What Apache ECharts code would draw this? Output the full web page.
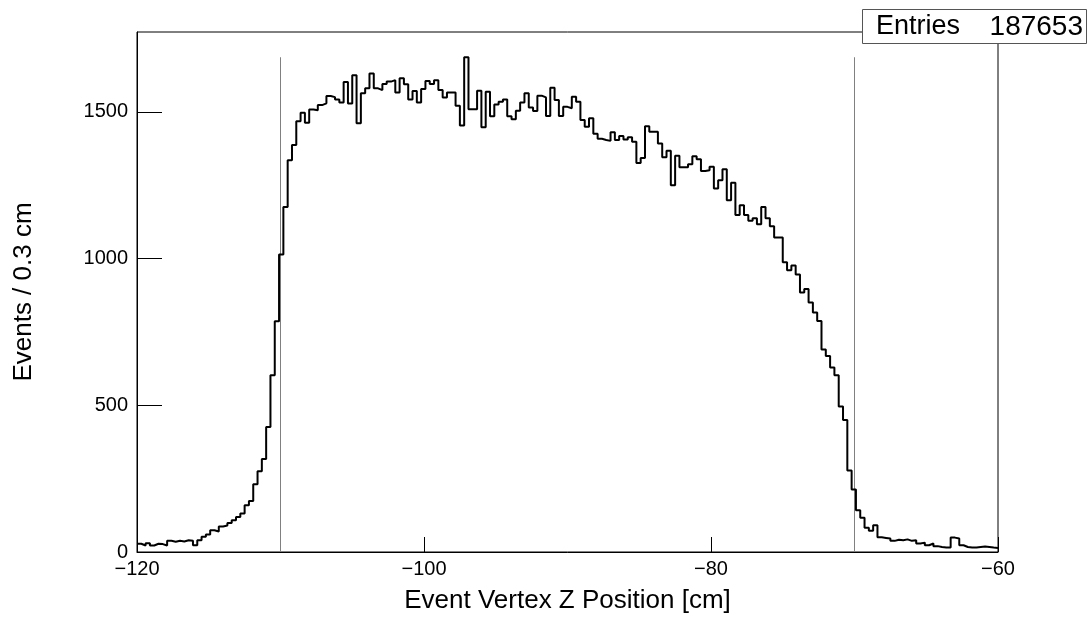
<!DOCTYPE html>
<html><head><meta charset="utf-8">
<script src="https://cdn.jsdelivr.net/npm/echarts@6/dist/echarts.min.js"></script>
<style>html,body{margin:0;padding:0;background:#fff}#c{width:1087px;height:624px}</style>
</head><body><div id="c"></div>
<script>
// ---- data ----
const xMin = -120, xMax = -60, nBins = 200;
const counts = [
  28, 22, 30, 22, 28, 27, 22, 38, 35, 38,
  36, 40, 38, 23, 40, 52, 60, 74, 70, 87,
  90, 99, 108, 119, 131, 159, 174, 231, 275, 317,
  426, 602, 786, 1014, 1176, 1335, 1387, 1468, 1497, 1463,
  1508, 1505, 1523, 1529, 1554, 1550, 1542, 1532, 1602, 1528,
  1625, 1461, 1563, 1580, 1631, 1580, 1574, 1595, 1603, 1608,
  1566, 1614, 1594, 1542, 1571, 1532, 1578, 1605, 1595, 1608,
  1574, 1549, 1566, 1566, 1521, 1453, 1686, 1509, 1509, 1572,
  1447, 1568, 1485, 1525, 1534, 1542, 1485, 1475, 1504, 1532,
  1563, 1515, 1503, 1555, 1549, 1486, 1582, 1540, 1486, 1517,
  1512, 1551, 1534, 1472, 1449, 1478, 1425, 1408, 1404, 1401,
  1430, 1404, 1418, 1406, 1413, 1398, 1326, 1343, 1451, 1432,
  1432, 1392, 1345, 1367, 1250, 1350, 1311, 1311, 1321, 1349,
  1338, 1298, 1301, 1313, 1239, 1267, 1304, 1199, 1258, 1148,
  1182, 1148, 1129, 1137, 1117, 1176, 1137, 1110, 1072, 1072,
  987, 960, 976, 946, 884, 896, 850, 816, 787, 690,
  668, 629, 602, 496, 450, 278, 213, 142, 117, 83,
  72, 91, 50, 48, 46, 38, 42, 40, 43, 38,
  40, 29, 32, 23, 29, 20, 17, 15, 15, 49,
  46, 23, 17, 15, 15, 17, 19, 17, 15, 14
];
const xTicks = [-120, -100, -80, -60];
const yTicks = [0, 500, 1000, 1500];
const yMax = 1772;
const cutPositions = [-110, -70];
const cutLineTop = 1686;
const statsLabel = 'Entries';
const statsValue = '187653';
const xTitle = 'Event Vertex Z Position [cm]';
const yTitle = 'Events / 0.3 cm';

// ---- build ----
const binWidth = (xMax - xMin) / nBins;
const stepData = counts.map((c, i) => [xMin + i * binWidth, c]);
stepData.push([xMax, counts[counts.length - 1]]);

const FONT = '"Liberation Sans", Arial, Helvetica, sans-serif';
const fmtMinus = v => (v < 0 ? '\u2212' + Math.abs(v) : String(v));

const chart = echarts.init(document.getElementById('c'), null, {renderer: 'canvas'});
chart.setOption({
  animation: false,
  backgroundColor: '#fff',
  textStyle: {fontFamily: FONT},
  grid: {left: 137, right: 89, top: 32, bottom: 72, show: true, borderColor: '#000', borderWidth: 1, backgroundColor: 'transparent'},
  xAxis: {
    type: 'value', min: xMin, max: xMax, interval: 20,
    axisLine: {show: true, onZero: false, lineStyle: {color: '#000', width: 1}},
    axisTick: {show: true, inside: true, length: 15, lineStyle: {color: '#000'}, customValues: xTicks},
    axisLabel: {color: '#000', fontSize: 20, fontFamily: FONT, margin: 7, formatter: fmtMinus, customValues: xTicks},
    splitLine: {show: false},
    name: xTitle, nameLocation: 'middle', nameGap: 36,
    nameTextStyle: {color: '#000', fontSize: 26, fontFamily: FONT}
  },
  yAxis: {
    type: 'value', min: 0, max: yMax, interval: 500,
    axisLine: {show: true, lineStyle: {color: '#000', width: 1}},
    axisTick: {show: true, inside: true, length: 25, lineStyle: {color: '#000'}, customValues: yTicks},
    axisLabel: {color: '#000', fontSize: 20, fontFamily: FONT, margin: 9, formatter: v => String(v), customValues: yTicks},
    splitLine: {show: false},
    name: yTitle, nameLocation: 'middle', nameGap: 100, nameRotate: 90,
    nameTextStyle: {color: '#000', fontSize: 26, fontFamily: FONT}
  },
  series: [
    {
      type: 'line', data: [], silent: true,
      markLine: {
        silent: true, symbol: ['none', 'none'], animation: false,
        label: {show: false},
        lineStyle: {color: '#808080', width: 1, type: 'solid'},
        data: cutPositions.map(x => [{coord: [x, 0]}, {coord: [x, cutLineTop]}])
      }
    },
    {
      type: 'line', step: 'end', data: stepData, showSymbol: false, symbol: 'none',
      lineStyle: {color: '#000', width: 2}, z: 5, silent: true
    }
  ],
  graphic: [
    {
      type: 'group', z: 100,
      children: [
        {type: 'rect', shape: {x: 862.5, y: 9.5, width: 224, height: 34},
         style: {fill: '#fff', stroke: '#555', lineWidth: 1}},
        {type: 'text', x: 876, y: 27,
         style: {text: statsLabel, fill: '#000', font: '27px ' + FONT, verticalAlign: 'middle', align: 'left'}},
        {type: 'text', x: 1083, y: 27,
         style: {text: statsValue, fill: '#000', font: '28px ' + FONT, verticalAlign: 'middle', align: 'right'}}
      ]
    }
  ]
});
</script>
</body></html>
